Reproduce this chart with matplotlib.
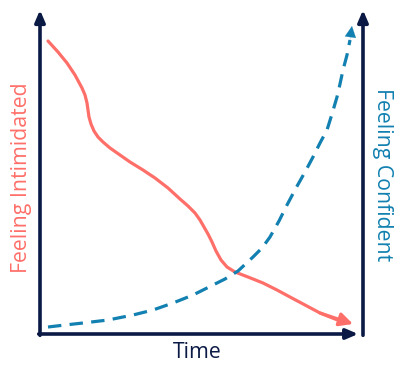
import numpy as np
import matplotlib.pyplot as plt

# curves (time 0-323, level 0-324)
intim_x = [8, 18, 27, 35, 42, 45, 47, 48, 49, 51, 54, 58, 63, 70, 80, 90, 103, 115, 128,
           140, 148, 155, 160, 164, 168, 172, 176, 181, 187, 195, 208, 223, 237, 250, 265,
           280, 295, 303, 313]
intim_y = [293, 282, 271, 259, 246, 239, 231, 224, 217, 210, 203, 197, 192, 186, 179, 172,
           164, 156, 146, 135, 128, 121, 114, 107, 100, 92, 83, 74, 67, 62, 57, 51, 44, 37,
           29, 21, 15, 12, 10]

conf_x = [8, 25, 43, 68, 93, 113, 133, 153, 173, 185, 198, 213, 222, 230, 239, 247, 256,
          265, 273, 280, 287, 292, 297, 300, 303, 307, 310, 312]
conf_y = [7, 9, 11, 14, 19, 24, 31, 39, 49, 55, 63, 77, 86, 97, 113, 129, 146, 162, 177,
          191, 204, 220, 237, 250, 264, 279, 294, 308]

red = "#FF6F69"
blue = "#1280B0"
navy = "#0B1A45"

fig = plt.figure(figsize=(4.05, 3.81), dpi=100)
ax = fig.add_axes([40/405, 47/381, 323/405, 324/381])
ax.set_xlim(0, 323)
ax.set_ylim(0, 324)
ax.axis("off")

# axes with arrow heads
axis_style = dict(arrowstyle="-|>,head_length=0.7,head_width=0.3", color=navy, lw=2.6,
                  shrinkA=0, shrinkB=0)
ax.annotate("", xy=(0, 1), xytext=(0, -0.004), xycoords="axes fraction",
            arrowprops=axis_style, annotation_clip=False)
ax.annotate("", xy=(1, 1), xytext=(1, -0.004), xycoords="axes fraction",
            arrowprops=axis_style, annotation_clip=False)
ax.annotate("", xy=(0.985, 0), xytext=(-0.004, 0), xycoords="axes fraction",
            arrowprops=axis_style, annotation_clip=False)

# feeling intimidated
ax.plot(intim_x[:-1], intim_y[:-1], color=red, lw=2.3, solid_capstyle="round",
        solid_joinstyle="round")
ax.annotate("", xy=(intim_x[-1], intim_y[-1]), xytext=(intim_x[-4], intim_y[-4]),
            arrowprops=dict(arrowstyle="-|>,head_length=0.8,head_width=0.4",
                            color=red, lw=2.3, shrinkA=0, shrinkB=0))

# feeling confident
ax.plot(conf_x[:-1], conf_y[:-1], color=blue, lw=2.3, ls=(0, (4.2, 2.6)))
ax.annotate("", xy=(conf_x[-1], conf_y[-1]), xytext=(conf_x[-2], conf_y[-2]),
            arrowprops=dict(arrowstyle="-|>,head_length=0.8,head_width=0.4",
                            color=blue, lw=0.1, shrinkA=0, shrinkB=0))

font = "Open Sans"
fig.text(197/405, 1 - 352/381, "Time", color=navy, fontsize=15.3, family=font,
         ha="center", va="center")
fig.text(22/405, 1 - 178/381, "Feeling Intimidated", color=red, fontsize=15.3,
         family=font, rotation=90, ha="center", va="center")
fig.text(382/405, 1 - 175/381, "Feeling Confident", color=blue, fontsize=15.3,
         family=font, rotation=-90, ha="center", va="center")

fig.savefig("out.png", dpi=100)
